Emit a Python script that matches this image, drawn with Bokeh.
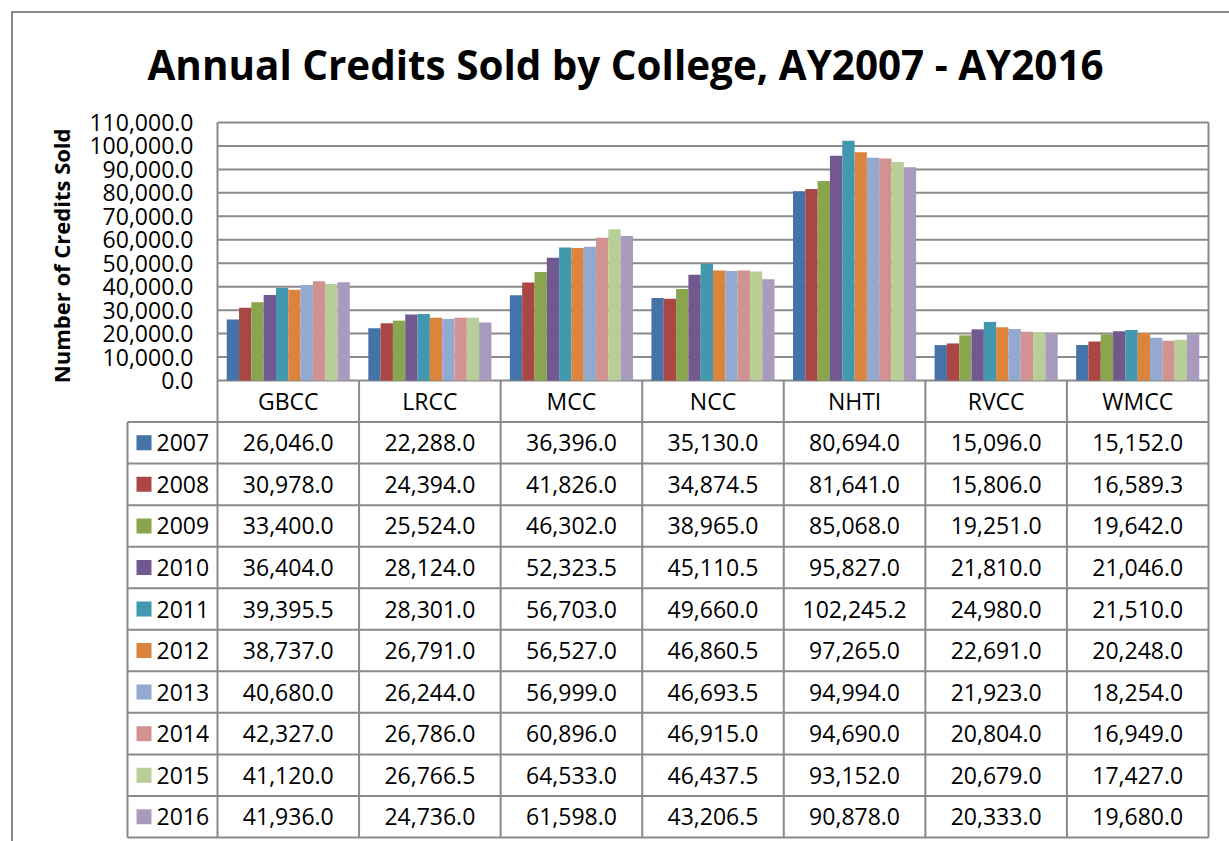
from bokeh.plotting import figure
from bokeh.models import (ColumnDataSource, Range1d, FixedTicker,
                          NumeralTickFormatter, Title, InlineStyleSheet)
from bokeh.core.properties import value
from bokeh.embed import file_html
from bokeh.resources import INLINE

# ---------------- data ----------------
colleges = ["GBCC", "LRCC", "MCC", "NCC", "NHTI", "RVCC", "WMCC"]
years = ["2007", "2008", "2009", "2010", "2011", "2012", "2013", "2014", "2015", "2016"]
v2007 = [26046.0, 22288.0, 36396.0, 35130.0, 80694.0, 15096.0, 15152.0]
v2008 = [30978.0, 24394.0, 41826.0, 34874.5, 81641.0, 15806.0, 16589.3]
v2009 = [33400.0, 25524.0, 46302.0, 38965.0, 85068.0, 19251.0, 19642.0]
v2010 = [36404.0, 28124.0, 52323.5, 45110.5, 95827.0, 21810.0, 21046.0]
v2011 = [39395.5, 28301.0, 56703.0, 49660.0, 102245.2, 24980.0, 21510.0]
v2012 = [38737.0, 26791.0, 56527.0, 46860.5, 97265.0, 22691.0, 20248.0]
v2013 = [40680.0, 26244.0, 56999.0, 46693.5, 94994.0, 21923.0, 18254.0]
v2014 = [42327.0, 26786.0, 60896.0, 46915.0, 94690.0, 20804.0, 16949.0]
v2015 = [41120.0, 26766.5, 64533.0, 46437.5, 93152.0, 20679.0, 17427.0]
v2016 = [41936.0, 24736.0, 61598.0, 43206.5, 90878.0, 20333.0, 19680.0]
series = [v2007, v2008, v2009, v2010, v2011, v2012, v2013, v2014, v2015, v2016]
colors = ["#4572A7", "#AA4643", "#89A54E", "#71588F", "#4198AF",
          "#DB843D", "#93A9CF", "#D19392", "#B9CD96", "#A99BBD"]
y_ticks = [0, 10000, 20000, 30000, 40000, 50000, 60000, 70000, 80000, 90000, 100000, 110000]
title_text = "Annual Credits Sold by College, AY2007 - AY2016"
y_label = "Number of Credits Sold"

FONT = "Open Sans"
GRID = "#8a8a8a"
W, H = 1229, 841
PLOT_L, PLOT_R = 217, 1208          # plot area (category columns)
LEG_L = 127                         # left edge of the table's legend column
PLOT_T, ZERO_Y, TABLE_B = 122, 380, 837
Y_MAX = 110000
PAD = 2                             # keep border lines fully inside the frame

ncat = len(colleges)
nrows = len(years)
ppu = (ZERO_Y - PLOT_T) / Y_MAX            # pixels per value unit
cw = (PLOT_R - PLOT_L) / ncat              # pixels per category
ROW = (TABLE_B - ZERO_Y) / (nrows + 1)     # table row height in pixels


def row_y(k):
    """value-axis coordinate of table row boundary k (0 = top of header)."""
    return -(k * ROW) / ppu


def px_x(px):
    """category-axis coordinate of a horizontal pixel position."""
    return (px - PLOT_L) / cw


frame_l, frame_r = LEG_L - PAD, PLOT_R + PAD
frame_t, frame_b = PLOT_T - PAD, TABLE_B + PAD

p = figure(width=W, height=H, output_backend="svg", toolbar_location=None,
           x_range=Range1d(px_x(frame_l), px_x(frame_r)),
           y_range=Range1d(-(frame_b - ZERO_Y) / ppu, (ZERO_Y - frame_t) / ppu),
           x_axis_location=None,
           min_border_left=frame_l, min_border_right=W - frame_r,
           min_border_top=frame_t, min_border_bottom=H - frame_b)
p.background_fill_color = "white"
p.border_fill_color = "white"
p.outline_line_color = None
p.grid.visible = False

ax = p.yaxis[0]
ax.ticker = FixedTicker(ticks=y_ticks)
ax.formatter = NumeralTickFormatter(format="0,0.0")
ax.major_label_text_font = FONT
ax.major_label_text_font_size = "23px"
ax.major_label_text_color = "black"
ax.major_tick_line_color = None
ax.minor_tick_line_color = None
ax.major_tick_out = 0
ax.major_tick_in = 0
ax.axis_line_color = None
ax.major_label_standoff = -(193 - frame_l)   # labels end just left of the plot area

p.add_layout(Title(text=title_text, align="left", offset=147 - PLOT_L - (frame_l - PLOT_L),
                   text_font=FONT, text_font_size="40.4px", text_font_style="bold",
                   text_color="black", standoff=58), "above")
p.add_layout(Title(text=y_label, align="right", offset=8, text_font=FONT,
                   text_font_size="22px", text_font_style="bold", text_color="black",
                   standoff=21), "left")

# horizontal grid lines across the plot area
p.segment(x0=[0] * len(y_ticks), y0=y_ticks, x1=[ncat] * len(y_ticks), y1=y_ticks,
          line_color=GRID, line_width=2)

# bars (10 per college, Excel gap width 150 %)
bw = 1.0 / (nrows + 1.5)
for j, (yr, s, c) in enumerate(zip(years, series, colors)):
    xs = [i + 0.5 + (j - (nrows - 1) / 2) * bw for i in range(ncat)]
    src = ColumnDataSource(dict(x=xs, top=s, college=colleges))
    p.vbar(x="x", top="top", width=bw, source=src, fill_color=c, line_color=None)

# ---------------- data table ----------------
y_bot = row_y(nrows + 1)
# plot-area left/right borders continuing as table column lines
p.segment(x0=list(range(ncat + 1)), y0=[0] * (ncat + 1),
          x1=list(range(ncat + 1)), y1=[y_bot] * (ncat + 1), line_color=GRID, line_width=2)
p.segment(x0=[0, ncat], y0=[Y_MAX, Y_MAX], x1=[0, ncat], y1=[0, 0],
          line_color=GRID, line_width=2)
leg_l = px_x(LEG_L)
p.segment(x0=[leg_l], y0=[row_y(1)], x1=[leg_l], y1=[y_bot], line_color=GRID, line_width=2)
hk = list(range(1, nrows + 2))
p.segment(x0=[leg_l] * len(hk), y0=[row_y(k) for k in hk], x1=[ncat] * len(hk),
          y1=[row_y(k) for k in hk], line_color=GRID, line_width=2)

# header
p.text(x=[i + 0.5 for i in range(ncat)], y=[row_y(0.5)] * ncat, text=colleges,
       text_font=value(FONT), text_font_size="23px", text_align="center",
       text_baseline="middle", text_color="black")

# legend keys and year labels
yc = [row_y(k + 1.5) for k in range(nrows)]
p.rect(x=[px_x(143.5)] * nrows, y=yc, width=15, height=15,
       width_units="screen", height_units="screen", fill_color=colors, line_color=None)
p.text(x=[px_x(156)] * nrows, y=yc, text=years, text_font=value(FONT),
       text_font_size="23px", text_align="left", text_baseline="middle", text_color="black")

# values
vx, vy, vt = [], [], []
for k, s in enumerate(series):
    for i, v in enumerate(s):
        vx.append(i + 0.5)
        vy.append(row_y(k + 1.5))
        vt.append(f"{v:,.1f}")
p.text(x=vx, y=vy, text=vt, text_font=value(FONT), text_font_size="23px",
       text_align="center", text_baseline="middle", text_color="black")

# outer chart-area frame (left and top edges)
p.stylesheets = [InlineStyleSheet(css=(
    ":host::after{content:'';position:absolute;left:11px;top:11px;right:0;bottom:0;"
    "border-left:2px solid #8a8a8a;border-top:2px solid #8a8a8a;pointer-events:none;}"))]

open("out.html", "w").write(file_html(p, INLINE))
